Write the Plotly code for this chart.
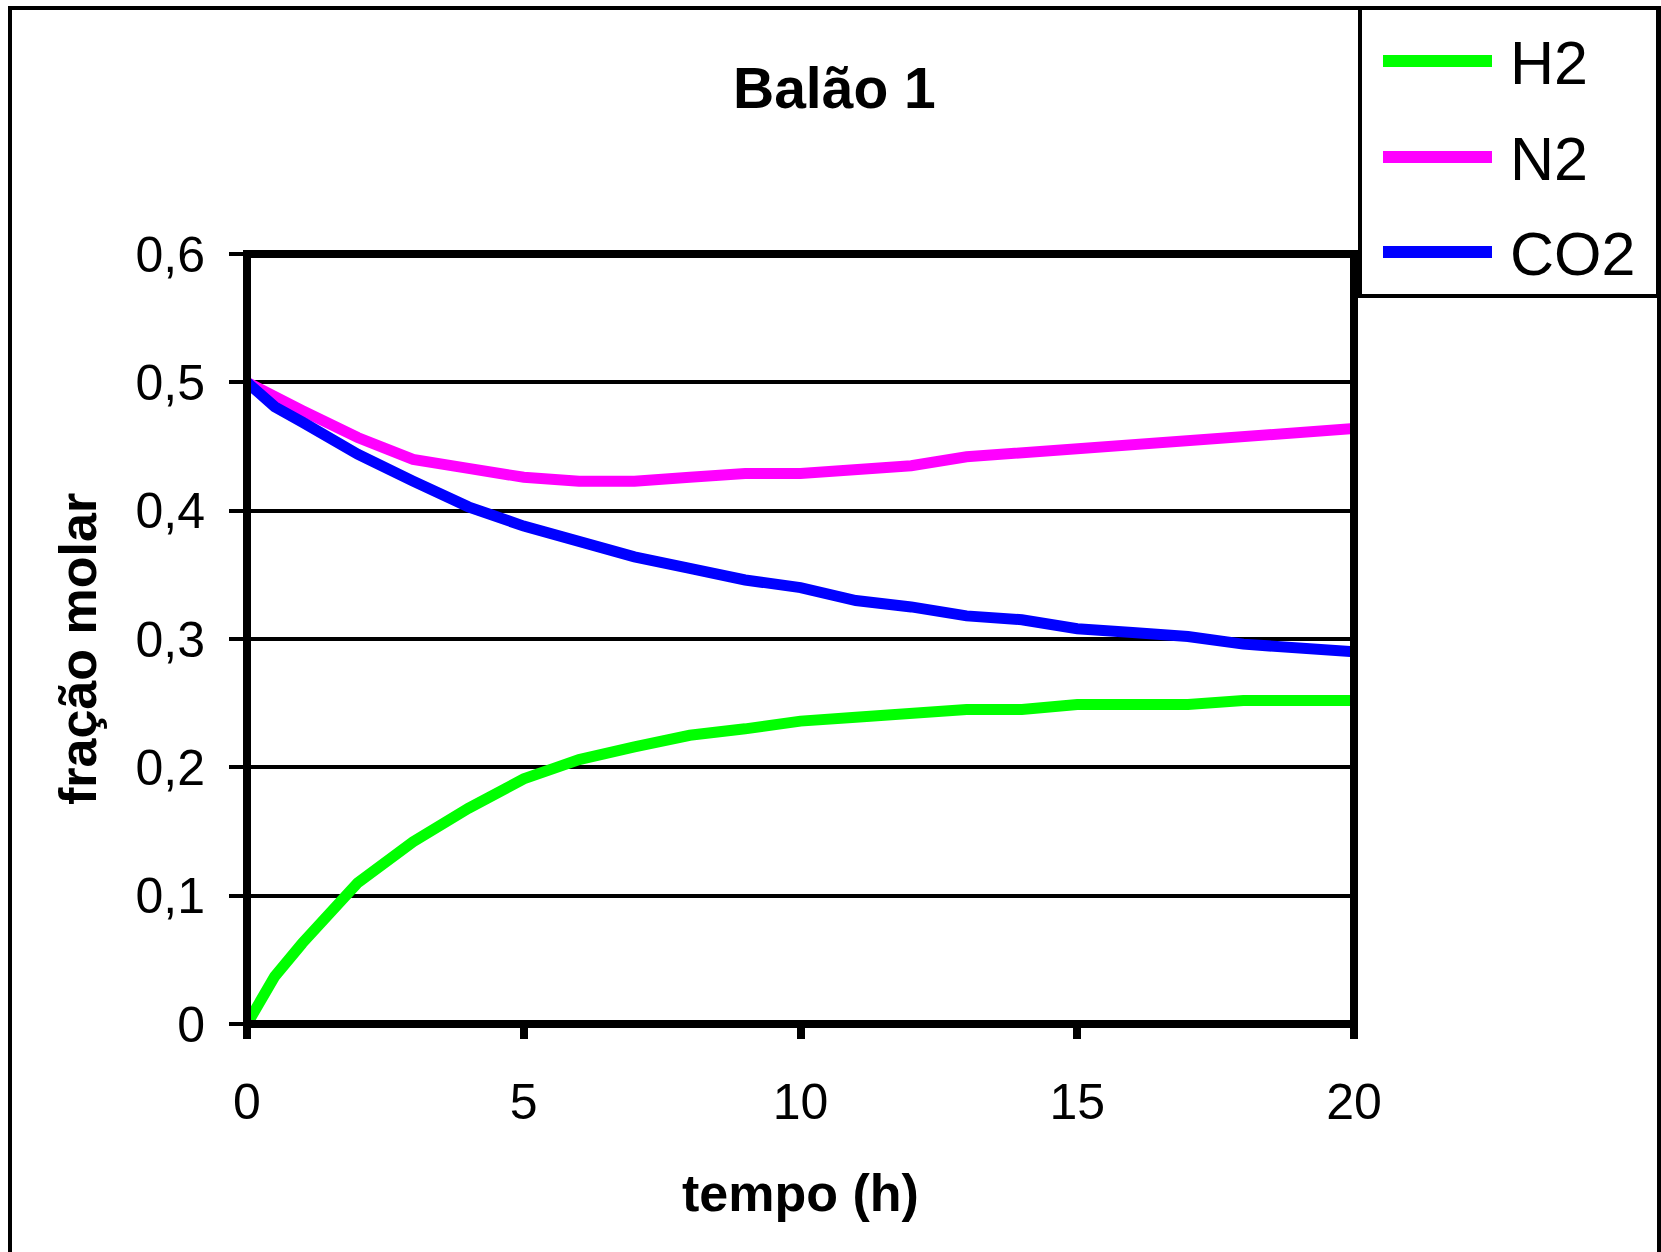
import plotly.graph_objects as go

# ---- data ----
tempo_h = [0, 0.5, 1, 2, 3, 4, 5, 6, 7, 8, 9, 10, 11, 12, 13, 14, 15, 16, 17, 18, 19, 20]
h2 = [0, 0.037, 0.063, 0.110, 0.142, 0.168, 0.191, 0.206, 0.216, 0.225, 0.230, 0.236,
      0.239, 0.242, 0.245, 0.245, 0.249, 0.249, 0.249, 0.252, 0.252, 0.252]
n2 = [0.5, 0.488, 0.478, 0.457, 0.440, 0.433, 0.426, 0.423, 0.423, 0.426, 0.429, 0.429,
      0.432, 0.435, 0.442, 0.445, 0.448, 0.451, 0.454, 0.457, 0.460, 0.464]
co2 = [0.5, 0.481, 0.469, 0.444, 0.423, 0.403, 0.388, 0.376, 0.364, 0.355, 0.346, 0.340,
       0.330, 0.325, 0.318, 0.315, 0.308, 0.305, 0.302, 0.296, 0.293, 0.290]
series_names = ["H2", "N2", "CO2"]
series_colors = ["#00FF00", "#FF00FF", "#0000FF"]
y_tickvals = [0, 0.1, 0.2, 0.3, 0.4, 0.5, 0.6]
y_ticktext = ["0", "0,1", "0,2", "0,3", "0,4", "0,5", "0,6"]
x_tickvals = [0, 5, 10, 15, 20]
x_ticktext = ["0", "5", "10", "15", "20"]
title_text = "Balão 1"
x_title = "tempo (h)"
y_title = "fração molar"

FONT = "Liberation Sans, Arial, sans-serif"
W, H = 1661, 1252
L, R, T, B = 247, 1354, 254, 1024  # plot area in pixels


def px(x):
    return (x - L) / (R - L)


def py(y):
    return (B - y) / (B - T)


fig = go.Figure()
for name, vals, col in zip(series_names, [h2, n2, co2], series_colors):
    fig.add_trace(go.Scatter(x=tempo_h, y=vals, mode="lines", name=name,
                             line=dict(color=col, width=11), showlegend=False))

shapes = []
# plot frame
shapes.append(dict(type="rect", xref="paper", yref="paper", x0=0, x1=1, y0=0, y1=1,
                   line=dict(color="black", width=8), layer="above"))
# outer chart border
shapes.append(dict(type="rect", xref="paper", yref="paper", x0=px(10), x1=px(1659),
                   y0=py(1300), y1=py(8), line=dict(color="black", width=4), layer="above"))
# legend box
shapes.append(dict(type="rect", xref="paper", yref="paper", x0=px(1360), x1=px(1658),
                   y0=py(296), y1=py(8), line=dict(color="black", width=4),
                   fillcolor="white", layer="above"))
annotations = []
leg_y = [61, 157, 252]
for name, col, yy in zip(series_names, series_colors, leg_y):
    shapes.append(dict(type="line", xref="paper", yref="paper", x0=px(1383), x1=px(1492),
                       y0=py(yy), y1=py(yy), line=dict(color=col, width=12), layer="above"))
    annotations.append(dict(text=name, xref="paper", yref="paper", x=px(1508), y=py(yy + 2),
                            xanchor="left", yanchor="middle", showarrow=False,
                            font=dict(family=FONT, size=61, color="black")))

annotations.append(dict(text=title_text, xref="paper", yref="paper", x=px(834), y=py(88),
                        xanchor="center", yanchor="middle", showarrow=False,
                        font=dict(family=FONT, size=57, color="black", weight="bold")))
annotations.append(dict(text=x_title, xref="paper", yref="paper", x=px(800), y=py(1193),
                        xanchor="center", yanchor="middle", showarrow=False,
                        font=dict(family=FONT, size=52, color="black", weight="bold")))
annotations.append(dict(text=y_title, xref="paper", yref="paper", x=px(78), y=py(649),
                        xanchor="center", yanchor="middle", showarrow=False, textangle=-90,
                        font=dict(family=FONT, size=52, color="black", weight="bold")))

fig.update_layout(
    width=W, height=H,
    margin=dict(l=L, r=W - R, t=T, b=H - B, autoexpand=False),
    paper_bgcolor="white", plot_bgcolor="white",
    shapes=shapes, annotations=annotations, showlegend=False,
    font=dict(family=FONT, color="black"),
)
fig.update_xaxes(range=[0, 20], tickvals=x_tickvals, ticktext=x_ticktext,
                 ticks="outside", ticklen=14, tickwidth=8, tickcolor="black",
                 showgrid=False, zeroline=False, showline=False,
                 ticklabelstandoff=20, tickfont=dict(family=FONT, size=50, color="black"))
fig.update_yaxes(range=[0, 0.6], tickvals=y_tickvals, ticktext=y_ticktext,
                 ticks="outside", ticklen=17, tickwidth=4, tickcolor="black",
                 showgrid=True, gridcolor="black", gridwidth=4, zeroline=False, showline=False,
                 ticklabelstandoff=14, tickfont=dict(family=FONT, size=50, color="black"))

fig.write_html("out.html")
